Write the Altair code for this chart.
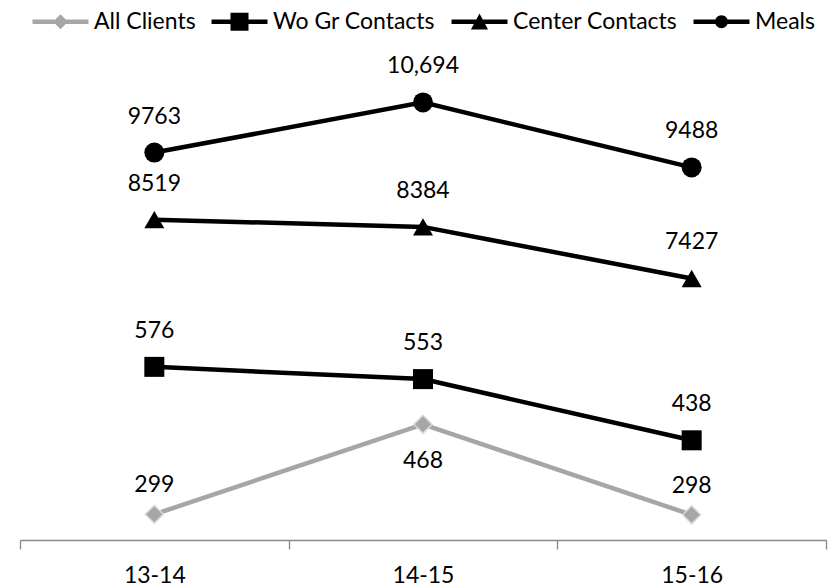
import altair as alt
import pandas as pd

# ---- data ----
periods = ["13-14", "14-15", "15-16"]
series_names = ["All Clients", "Wo Gr Contacts", "Center Contacts", "Meals"]
all_clients = [299, 468, 298]
wo_gr_contacts = [576, 553, 438]
center_contacts = [8519, 8384, 7427]
meals = [9763, 10694, 9488]

series_values = {
    "All Clients": all_clients,
    "Wo Gr Contacts": wo_gr_contacts,
    "Center Contacts": center_contacts,
    "Meals": meals,
}
rows = []
for s in series_names:
    for p, v in zip(periods, series_values[s]):
        rows.append({"series": s, "period": p, "value": v})
df = pd.DataFrame(rows)

FONT = "Lato"
FS = 23
series_colors = ["#A6A6A6", "#000000", "#000000", "#000000"]
color_of = dict(zip(series_names, series_colors))
color_scale = alt.Scale(domain=series_names, range=series_colors)

# legend symbols: a line through a marker (unit = 9 px for symbolSize 324)
LINE = "M-3.11,-0.26H3.11V0.26H-3.11Z"
legend_paths = [
    LINE + "M0,-0.83L0.83,0L0,0.83L-0.83,0Z",
    LINE + "M-1,-1H1V1H-1Z",
    LINE + "M0,-0.92L0.95,0.85H-0.95Z",
    LINE + "M0.72,0A0.72,0.72,0,1,1,-0.72,0A0.72,0.72,0,1,1,0.72,0Z",
]

x_enc = alt.X(
    "period:N",
    sort=periods,
    scale=alt.Scale(type="band", domain=periods, paddingInner=0, paddingOuter=0),
    axis=alt.Axis(
        title=None, labelAngle=0, tickBand="extent", grid=False,
        domainColor="#898989", tickColor="#898989", domainWidth=1.3, tickWidth=1.3,
        tickSize=9, labelFont=FONT, labelFontSize=FS, labelColor="#000000",
        labelPadding=15,
    ),
)

label_expr = "datum.value >= 10000 ? format(datum.value, ',') : format(datum.value, 'd')"

markers = {
    "All Clients": dict(shape="diamond", size=324, stroke="#D9D9D9", strokeWidth=1.5),
    "Wo Gr Contacts": dict(shape="square", size=400, strokeWidth=0),
    "Center Contacts": dict(shape="triangle-up", size=400, strokeWidth=0),
    "Meals": dict(shape="circle", size=400, strokeWidth=0),
}

legend_cfg = alt.Legend(
    title=None, orient="none", legendX=29, legendY=-24, direction="horizontal",
    symbolSize=324, symbolStrokeWidth=0, symbolOpacity=1,
    labelFont=FONT, labelFontSize=FS, labelColor="#000000", labelOffset=22,
    columnPadding=15, padding=0, labelLimit=0,
)


def group(names, domain, with_legend=False):
    y_enc = alt.Y("value:Q", scale=alt.Scale(domain=domain, nice=False, zero=False), axis=None)
    layers = []
    for n in names:
        layers.append(
            alt.Chart(df).transform_filter(alt.datum.series == n)
            .mark_line(strokeWidth=4.5, color=color_of[n])
            .encode(x=x_enc, y=y_enc)
        )
    for n in names:
        m = markers[n]
        layers.append(
            alt.Chart(df).transform_filter(alt.datum.series == n)
            .mark_point(filled=True, opacity=1, fill=color_of[n], **m)
            .encode(x=x_enc, y=y_enc)
        )
    txt = dict(font=FONT, fontSize=FS, color="#000000", align="center", baseline="middle")
    others = [n for n in names if n != "All Clients"]
    if others:
        layers.append(
            alt.Chart(df).transform_filter(alt.FieldOneOfPredicate(field="series", oneOf=others))
            .transform_calculate(label=label_expr)
            .mark_text(dy=-36, **txt).encode(x=x_enc, y=y_enc, text="label:N")
        )
    if "All Clients" in names:
        layers.append(
            alt.Chart(df).transform_filter((alt.datum.series == "All Clients") & (alt.datum.period != "14-15"))
            .transform_calculate(label=label_expr)
            .mark_text(dy=-29, **txt).encode(x=x_enc, y=y_enc, text="label:N")
        )
        layers.append(
            alt.Chart(df).transform_filter((alt.datum.series == "All Clients") & (alt.datum.period == "14-15"))
            .transform_calculate(label=label_expr)
            .mark_text(dy=37, **txt).encode(x=x_enc, y=y_enc, text="label:N")
        )
    if with_legend:
        # invisible marks that only carry the legend (all four series)
        layers.append(
            alt.Chart(df).mark_point(filled=True, opacity=0, size=1).encode(
                x=x_enc,
                y=alt.Y("value:Q", scale=alt.Scale(domain=domain, nice=False, zero=False), axis=None),
                color=alt.Color("series:N", scale=color_scale, legend=legend_cfg),
                shape=alt.Shape("series:N", scale=alt.Scale(domain=series_names, range=legend_paths),
                                legend=legend_cfg),
            ).transform_filter(alt.FieldOneOfPredicate(field="series", oneOf=series_names))
            .transform_calculate(value="0")
        )
    return alt.layer(*layers)


small = group(["All Clients", "Wo Gr Contacts"], [250.7, 1201.4], with_legend=True)
large = group(["Center Contacts", "Meals"], [2575, 11963])

chart = (
    alt.layer(small, large)
    .resolve_scale(y="independent")
    .properties(
        width=806, height=506,
        padding={"left": 12, "top": 26, "right": 4, "bottom": 46},
        autosize=alt.AutoSizeParams(type="none"),
        background="white",
    )
    .configure_view(strokeOpacity=0, strokeWidth=0)
)

chart.save("out.html", embed_options={"renderer": "svg", "actions": False})
